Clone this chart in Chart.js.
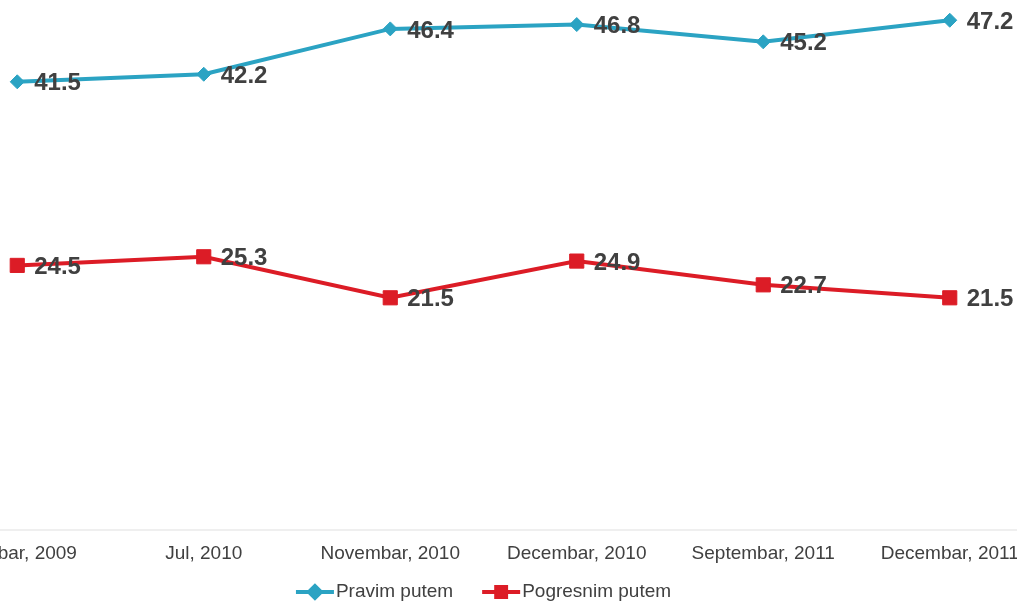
<!DOCTYPE html>
<html>
<head>
<meta charset="utf-8">
<script src="https://cdn.jsdelivr.net/npm/chart.js@4/dist/chart.umd.min.js"></script>
<style>
  html, body { margin: 0; padding: 0; background: #fff; overflow: hidden; }
  #wrap { position: absolute; left: -87px; top: -21px; width: 1141px; height: 623px; }
</style>
</head>
<body>
<div id="wrap"><canvas id="grafik"></canvas></div>
<script>
const periodi = ["Oktobar, 2009", "Jul, 2010", "Novembar, 2010", "Decembar, 2010", "Septembar, 2011", "Decembar, 2011"];
const pravimPutem = [41.5, 42.2, 46.4, 46.8, 45.2, 47.2];
const pogresnimPutem = [24.5, 25.3, 21.5, 24.9, 22.7, 21.5];

const FONT = "'Liberation Sans', Arial, sans-serif";
const PLAVA = "#2ba3c3";
const CRVENA = "#dc1c26";

// vrijednosti pored tacaka
const labelePlugin = {
  id: "labele",
  afterDatasetsDraw(chart) {
    const ctx = chart.ctx;
    ctx.save();
    ctx.font = "bold 24px " + FONT;
    ctx.fillStyle = "#404040";
    ctx.textAlign = "left";
    ctx.textBaseline = "middle";
    chart.data.datasets.forEach((ds, i) => {
      chart.getDatasetMeta(i).data.forEach((pt, j) => {
        ctx.fillText(ds.data[j].toFixed(1), pt.x + 17, pt.y + 2);
      });
    });
    ctx.restore();
  }
};

// legenda sa linijom i markerom
const legendaPlugin = {
  id: "legenda",
  afterDraw(chart) {
    const ctx = chart.ctx;
    ctx.save();
    ctx.font = "19px " + FONT;
    const lineW = 38, gapTxt = 2, gapItem = 29;
    const items = chart.data.datasets.map(ds => ({ ds, w: ctx.measureText(ds.label).width }));
    let total = items.reduce((s, it) => s + lineW + gapTxt + it.w, 0) + gapItem * (items.length - 1);
    let x = chart.width / 2 - total / 2;
    const y = chart.height - 10;
    items.forEach(it => {
      ctx.strokeStyle = it.ds.borderColor;
      ctx.lineWidth = 4;
      ctx.beginPath();
      ctx.moveTo(x, y);
      ctx.lineTo(x + lineW, y);
      ctx.stroke();
      Chart.helpers.drawPoint(ctx, {
        pointStyle: it.ds.pointStyle,
        radius: it.ds.pointStyle === "rect" ? 7 : 6,
        borderWidth: 1
      }, x + lineW / 2, y);
      ctx.fillStyle = it.ds.borderColor;
      ctx.fill();
      ctx.fillStyle = "#404040";
      ctx.textAlign = "left";
      ctx.textBaseline = "middle";
      ctx.fillText(it.ds.label, x + lineW + gapTxt, y);
      x += lineW + gapTxt + it.w + gapItem;
    });
    ctx.restore();
  }
};

new Chart(document.getElementById("grafik"), {
  type: "line",
  data: {
    labels: periodi,
    datasets: [
      {
        label: "Pravim putem",
        data: pravimPutem,
        borderColor: PLAVA,
        backgroundColor: PLAVA,
        borderWidth: 4,
        pointStyle: "rectRot",
        pointRadius: 7,
        pointBorderWidth: 1,
        pointBackgroundColor: PLAVA,
        pointBorderColor: PLAVA,
        tension: 0
      },
      {
        label: "Pogresnim putem",
        data: pogresnimPutem,
        borderColor: CRVENA,
        backgroundColor: CRVENA,
        borderWidth: 4,
        pointStyle: "rect",
        pointRadius: 10,
        pointBorderWidth: 1,
        pointBackgroundColor: CRVENA,
        pointBorderColor: CRVENA,
        tension: 0
      }
    ]
  },
  options: {
    responsive: true,
    maintainAspectRatio: false,
    animation: false,
    layout: { padding: 0 },
    scales: {
      y: { display: false, min: 0, max: 50 },
      x: {
        offset: true,
        grid: { display: false, drawTicks: false },
        border: { display: true, color: "#efefef", width: 2 },
        ticks: { color: "#404040", font: { family: FONT, size: 19 }, padding: 12, maxRotation: 0, autoSkip: false },
        afterFit(scale) { scale.height = 72; }
      }
    },
    plugins: {
      legend: { display: false },
      tooltip: { enabled: false }
    }
  },
  plugins: [labelePlugin, legendaPlugin]
});
</script>
</body>
</html>
